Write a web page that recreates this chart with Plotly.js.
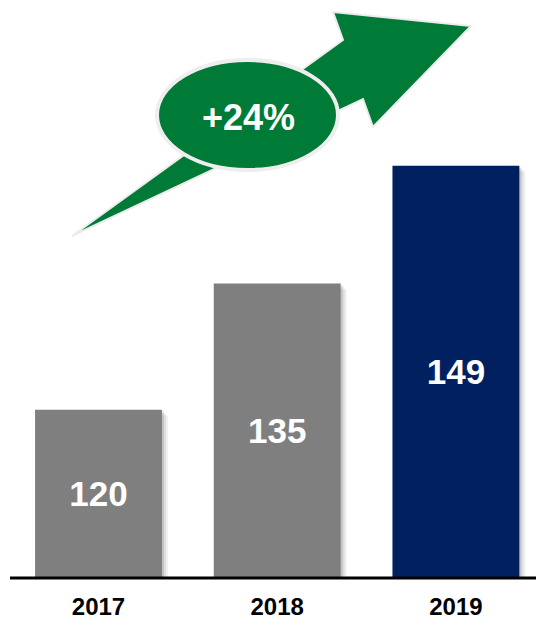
<!DOCTYPE html>
<html>
<head>
<meta charset="utf-8">
<script src="https://cdn.plot.ly/plotly-3.0.1.min.js"></script>
<style>html,body{margin:0;padding:0;background:#fff;}#chart{width:536px;height:622px;}</style>
</head>
<body>
<div id="chart"></div>
<script>
// Data
const years = ['2017', '2018', '2019'];
const values = [120, 135, 149];
const barColors = ['#7f7f7f', '#7f7f7f', '#002060'];
const growthLabel = '+24%';

// Layout geometry (pixels)
const W = 536, H = 622, PB = 44, PH = H - PB;
const px = x => x / W;
const py = y => (PH - y) / PH;
const FONT = 'Arial, "Liberation Sans", sans-serif';

const AXIS_BASE = 100;     // value axis starts at 100
const unitPx = 178.7;      // px per category
const barW = 0.71;
const xRange = [-98.5 / unitPx, (W - 98.5) / unitPx];
const yRange = [AXIS_BASE, AXIS_BASE + PH / 8.414];

function shadowTrace(shiftPx, drop, alpha) {
  return {
    type: 'bar', x: years, base: AXIS_BASE, y: values.map(v => v - AXIS_BASE - drop),
    width: barW, offset: -barW / 2 + shiftPx / unitPx,
    marker: { color: 'rgba(0,0,0,' + alpha + ')', line: { width: 0 } },
    hoverinfo: 'skip', showlegend: false
  };
}

const traces = [
  shadowTrace(6, 0.7, 0.06),
  shadowTrace(4, 0.45, 0.08),
  shadowTrace(2, 0.2, 0.12),
  {
    type: 'bar', x: years, base: AXIS_BASE, y: values.map(v => v - AXIS_BASE),
    width: barW, offset: -barW / 2,
    marker: { color: barColors, line: { width: 0 } },
    text: values.map(String),
    texttemplate: '%{text}',
    textposition: 'inside', insidetextanchor: 'middle',
    textfont: { family: FONT, size: 35, color: '#ffffff', weight: 'bold' },
    textangle: 0, constraintext: 'none',
    hoverinfo: 'skip', showlegend: false
  }
];

// Arrow polygon (decorative)
const arrowPts = [[72, 236], [343, 40], [333, 12], [471, 26], [373, 127], [363, 99]];
const arrowPath = 'M ' + arrowPts.map(p => px(p[0]) + ',' + py(p[1])).join(' L ') + ' Z';

const layout = {
  width: W, height: H,
  margin: { l: 0, r: 0, t: 0, b: PB, pad: 0 },
  paper_bgcolor: '#ffffff', plot_bgcolor: '#ffffff',
  barmode: 'overlay',
  showlegend: false,
  xaxis: {
    type: 'category', range: xRange, fixedrange: true,
    showgrid: false, zeroline: false, showline: false, ticks: '',
    tickfont: { family: FONT, size: 24, color: '#000000', weight: 'bold' },
    ticklabelstandoff: 12
  },
  yaxis: {
    range: yRange, visible: false, fixedrange: true
  },
  shapes: [
    { type: 'line', xref: 'paper', yref: 'paper', x0: px(10), x1: 1, y0: py(578), y1: py(578),
      line: { color: '#000000', width: 3 } },
    { type: 'path', xref: 'paper', yref: 'paper', path: arrowPath,
      fillcolor: '#007a37', line: { color: '#ececec', width: 2 } },
    { type: 'circle', xref: 'paper', yref: 'paper',
      x0: px(157), x1: px(338), y0: py(170), y1: py(60),
      fillcolor: '#007a37', line: { color: '#eeeeee', width: 4 } }
  ],
  annotations: [
    { xref: 'paper', yref: 'paper', x: px(248), y: py(117), text: growthLabel,
      showarrow: false, xanchor: 'center', yanchor: 'middle',
      font: { family: FONT, size: 36, color: '#ffffff', weight: 'bold' } }
  ]
};

Plotly.newPlot('chart', traces, layout, { displayModeBar: false, staticPlot: true });
</script>
</body>
</html>
